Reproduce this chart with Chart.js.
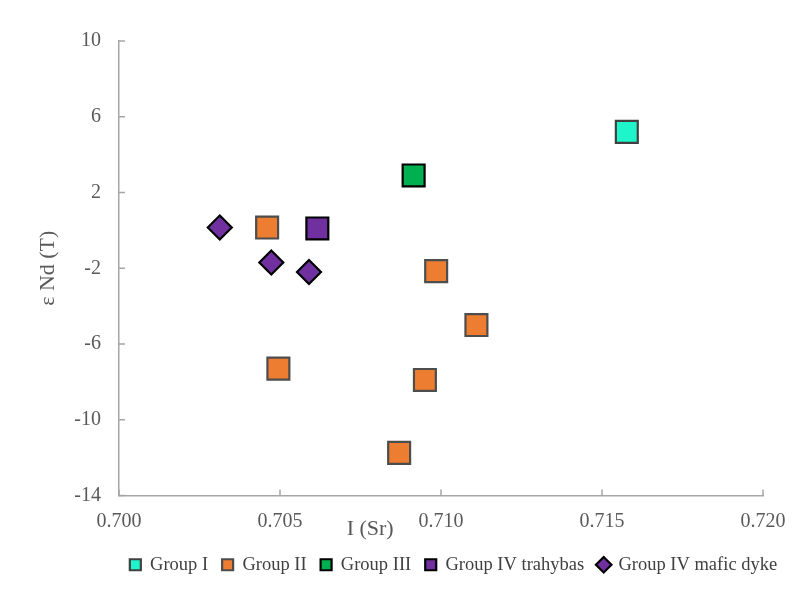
<!DOCTYPE html>
<html>
<head>
<meta charset="utf-8">
<script src="https://cdn.jsdelivr.net/npm/chart.js@4.4.1/dist/chart.umd.min.js"></script>
<style>
  html, body { margin: 0; padding: 0; background: #ffffff; }
  #wrap { width: 803px; height: 593px; }
</style>
</head>
<body>
<div id="wrap"><canvas id="c" width="803" height="593"></canvas></div>
<script>
// Initial Sr ratio I(Sr) and εNd(T) for each sample group
const groupIName = 'Group I';
const groupISr = [0.71577];
const groupINd = [5.2];

const groupIIName = 'Group II';
const groupIISr = [0.7046, 0.70985, 0.7111, 0.70495, 0.7095, 0.7087];
const groupIINd = [0.15, -2.15, -5.0, -7.3, -7.9, -11.75];

const groupIIIName = 'Group III';
const groupIIISr = [0.70915];
const groupIIINd = [2.9];

const trahybasName = 'Group IV trahybas';
const trahybasSr = [0.70616];
const trahybasNd = [0.1];

const dykeName = 'Group IV mafic dyke';
const dykeSr = [0.70313, 0.70473, 0.7059];
const dykeNd = [0.15, -1.7, -2.2];

// Axis ticks
const srTicks = [0.700, 0.705, 0.710, 0.715, 0.720];
const ndTicks = [-14, -10, -6, -2, 2, 6, 10];

const xTitle = 'I (Sr)';
const yTitle = 'ε Nd (T)';

function pts(xs, ys) { return xs.map((x, i) => ({ x: x, y: ys[i] })); }

const serif = '"Liberation Serif", "Times New Roman", serif';
const textGrey = '#595959';
const axisGrey = '#A6A6A6';

// Legend row sits under the axis title, centred on the plot area
const legendPlace = {
  id: 'legendPlace',
  beforeDraw(chart) {
    const lg = chart.legend;
    if (!lg) return;
    const h = lg.bottom - lg.top;
    lg.top = chart.chartArea.bottom + 46;
    lg.bottom = lg.top + h;
    const w = lg.right - lg.left;
    lg.left = 72;
    lg.right = lg.left + w;
  }
};

// Inward tick marks and the two axis titles
const axisDecor = {
  id: 'axisDecor',
  afterDraw(chart) {
    const ctx = chart.ctx;
    const xs = chart.scales.x, ys = chart.scales.y;
    const a = chart.chartArea;
    ctx.save();
    ctx.strokeStyle = axisGrey;
    ctx.lineWidth = 1.5;
    ctx.beginPath();
    srTicks.forEach(v => {
      const px = xs.getPixelForValue(v);
      ctx.moveTo(px, a.bottom);
      ctx.lineTo(px, a.bottom - 6);
    });
    ndTicks.forEach(v => {
      const py = ys.getPixelForValue(v);
      ctx.moveTo(a.left, py);
      ctx.lineTo(a.left + 6, py);
    });
    ctx.stroke();

    ctx.fillStyle = textGrey;
    ctx.font = '22px ' + serif;
    ctx.textAlign = 'center';
    ctx.textBaseline = 'middle';
    ctx.fillText(xTitle, a.left + (a.right - a.left) * 0.39, a.bottom + 34);

    ctx.translate(48, (a.top + a.bottom) / 2);
    ctx.rotate(-Math.PI / 2);
    ctx.fillText(yTitle, 0, 0);
    ctx.restore();
  }
};

const markerSquare = { pointStyle: 'rect', pointRadius: 15.5, pointHoverRadius: 15.5, pointBorderWidth: 2.2 };
const markerDiamond = { pointStyle: 'rectRot', pointRadius: 12, pointHoverRadius: 12, pointBorderWidth: 2.2 };

new Chart(document.getElementById('c'), {
  type: 'scatter',
  data: {
    datasets: [
      Object.assign({ label: groupIName, data: pts(groupISr, groupINd),
        backgroundColor: '#1EF5CA', borderColor: '#404040' }, markerSquare),
      Object.assign({ label: groupIIName, data: pts(groupIISr, groupIINd),
        backgroundColor: '#ED7D31', borderColor: '#4D4D4D' }, markerSquare),
      Object.assign({ label: groupIIIName, data: pts(groupIIISr, groupIIINd),
        backgroundColor: '#00B050', borderColor: '#000000' }, markerSquare),
      Object.assign({ label: trahybasName, data: pts(trahybasSr, trahybasNd),
        backgroundColor: '#7030A0', borderColor: '#000000' }, markerSquare),
      Object.assign({ label: dykeName, data: pts(dykeSr, dykeNd),
        backgroundColor: '#7030A0', borderColor: '#000000' }, markerDiamond)
    ]
  },
  options: {
    responsive: false,
    animation: false,
    layout: { padding: { top: 41, right: 40, bottom: 15, left: 0 } },
    plugins: {
      tooltip: { enabled: false },
      legend: {
        position: 'bottom',
        labels: {
          usePointStyle: true,
          boxWidth: 11,
          boxHeight: 11,
          padding: 14,
          color: '#404040',
          font: { family: serif, size: 18.5 }
        }
      }
    },
    scales: {
      x: {
        type: 'linear',
        min: 0.700, max: 0.720,
        afterBuildTicks(s) { s.ticks = srTicks.map(v => ({ value: v })); },
        afterFit(s) { s.height = 40; },
        grid: { display: true, drawOnChartArea: false, drawTicks: false },
        border: { color: axisGrey, width: 1.5 },
        ticks: {
          padding: 14,
          color: textGrey,
          font: { family: serif, size: 20 },
          callback: v => v.toFixed(3)
        }
      },
      y: {
        type: 'linear',
        min: -14, max: 10,
        afterBuildTicks(s) { s.ticks = ndTicks.map(v => ({ value: v })); },
        afterFit(s) { s.width = 119; },
        grid: { display: true, drawOnChartArea: false, drawTicks: false },
        border: { color: axisGrey, width: 1.5 },
        ticks: {
          padding: 18,
          color: textGrey,
          font: { family: serif, size: 20 },
          callback: v => String(v)
        }
      }
    }
  },
  plugins: [legendPlace, axisDecor]
});
</script>
</body>
</html>
